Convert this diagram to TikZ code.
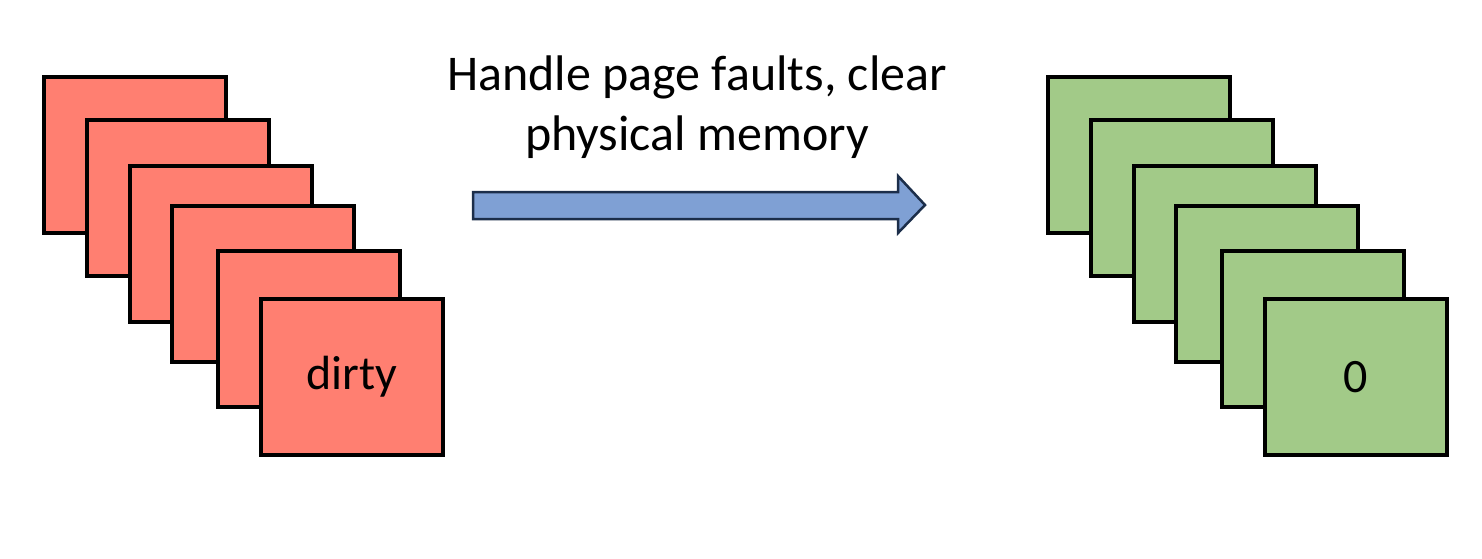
\documentclass[tikz,border=0pt]{standalone}
\usepackage{fontspec}
\setmainfont{Carlito}
\definecolor{redfill}{HTML}{FF7F71}
\definecolor{greenfill}{HTML}{A2CA88}
\definecolor{arrowfill}{HTML}{7FA0D4}
\definecolor{arrowline}{HTML}{1C2E4A}
\begin{document}
\begin{tikzpicture}[x=1pt,y=-1pt,
  page/.style={draw=black,line width=3.5pt,minimum width=182pt,minimum height=156pt,inner sep=0pt,anchor=north west,font=\fontsize{48}{52}\selectfont},
  redpage/.style={page,fill=redfill},
  greenpage/.style={page,fill=greenfill}]
\useasboundingbox (0,0) rectangle (1482,558);
% red stack
\node[redpage] (r1) at (42,75) {};
\node[redpage] (r2) at (85,118) {};
\node[redpage] (r3) at (128,164) {};
\node[redpage] (r4) at (170,204) {};
\node[redpage] (r5) at (216,249) {};
\node[redpage] (r6) at (259,297) {dirty};
% green stack
\node[greenpage] (g1) at (1046,75) {};
\node[greenpage] (g2) at (1089,118) {};
\node[greenpage] (g3) at (1132,164) {};
\node[greenpage] (g4) at (1174,204) {};
\node[greenpage] (g5) at (1220,249) {};
\node[greenpage] (g6) at (1263,297) {0};
% arrow
\draw[fill=arrowfill,draw=arrowline,line width=2.5pt,line join=miter]
  (473,192) -- (898,192) -- (898,176) -- (925,205) -- (898,233) -- (898,219) -- (473,219) -- cycle;
\node[font=\fontsize{50}{60}\selectfont,align=center] (lbl) at (697,107) {Handle page faults, clear\\physical memory};
\end{tikzpicture}
\end{document}
